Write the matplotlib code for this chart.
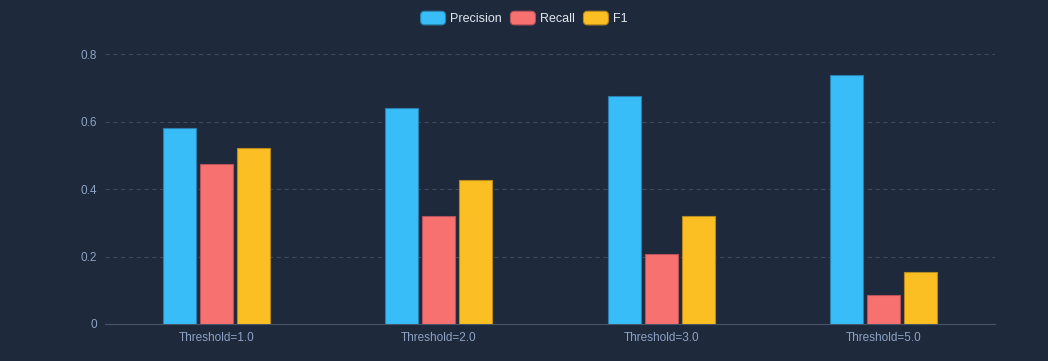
import matplotlib.pyplot as plt
import numpy as np
from matplotlib.patches import FancyBboxPatch
from matplotlib.legend_handler import HandlerPatch

categories = ['Threshold=1.0', 'Threshold=2.0', 'Threshold=3.0', 'Threshold=5.0']
precision = [0.581, 0.640, 0.677, 0.738]
recall = [0.476, 0.320, 0.209, 0.085]
f1 = [0.522, 0.427, 0.321, 0.153]

series = [('Precision', precision, '#38bdf8', '#2a7fae'),
          ('Recall', recall, '#f87171', '#b8525a'),
          ('F1', f1, '#fbbf24', '#b8891f')]

plt.rcParams['font.family'] = ['Liberation Sans', 'DejaVu Sans']

bg = '#1e293b'
fig = plt.figure(figsize=(10.48, 3.61), dpi=100, facecolor=bg)
ax = fig.add_axes([0.1002, 0.1025, 0.8492, 0.7471])
ax.set_facecolor(bg)

x = np.arange(len(categories))
width = 0.148
step = 0.166
bars = []
for i, (name, vals, col, edge) in enumerate(series):
    b = ax.bar(x + (i - 1) * step, vals, width, color=col, edgecolor=edge,
               linewidth=0.8, label=name, zorder=3)
    bars.append(b)

ax.set_xlim(-0.5, len(categories) - 0.5)
ax.set_ylim(0, 0.8)
ax.set_yticks([0, 0.2, 0.4, 0.6, 0.8])
ax.set_yticklabels(['0', '0.2', '0.4', '0.6', '0.8'])
ax.set_xticks(x)
ax.set_xticklabels(categories)
ax.tick_params(axis='both', length=0, labelsize=8.5, colors='#8ea3c4')
ax.tick_params(axis='y', pad=6)
ax.tick_params(axis='x', pad=6)
ax.yaxis.grid(True, color='#3b4a5e', linestyle=(0, (4, 3)), linewidth=0.8, zorder=0)
ax.set_axisbelow(True)
for s in ['top', 'right', 'left']:
    ax.spines[s].set_visible(False)
ax.spines['bottom'].set_color('#475569')
ax.spines['bottom'].set_linewidth(0.8)


class RoundHandler(HandlerPatch):
    def create_artists(self, legend, orig_handle, xdescent, ydescent, width, height, fontsize, trans):
        p = FancyBboxPatch((-xdescent, -ydescent), width, height,
                           boxstyle='round,pad=0,rounding_size=3',
                           facecolor=orig_handle.get_facecolor(),
                           edgecolor=orig_handle.get_edgecolor(), linewidth=0.8)
        p.set_transform(trans)
        return [p]


handles = [b.patches[0] for b in bars]
labels = [s[0] for s in series]
leg = fig.legend(handles, labels, loc='upper center', bbox_to_anchor=(0.5, 1.0), ncol=3, frameon=False,
                 fontsize=9, handlelength=2.0, handleheight=1.3, handletextpad=0.35,
                 columnspacing=0.7, handler_map={h: RoundHandler() for h in handles})
for t in leg.get_texts():
    t.set_color('#e2e8f0')

fig.savefig('out.png', dpi=100, facecolor=bg)
